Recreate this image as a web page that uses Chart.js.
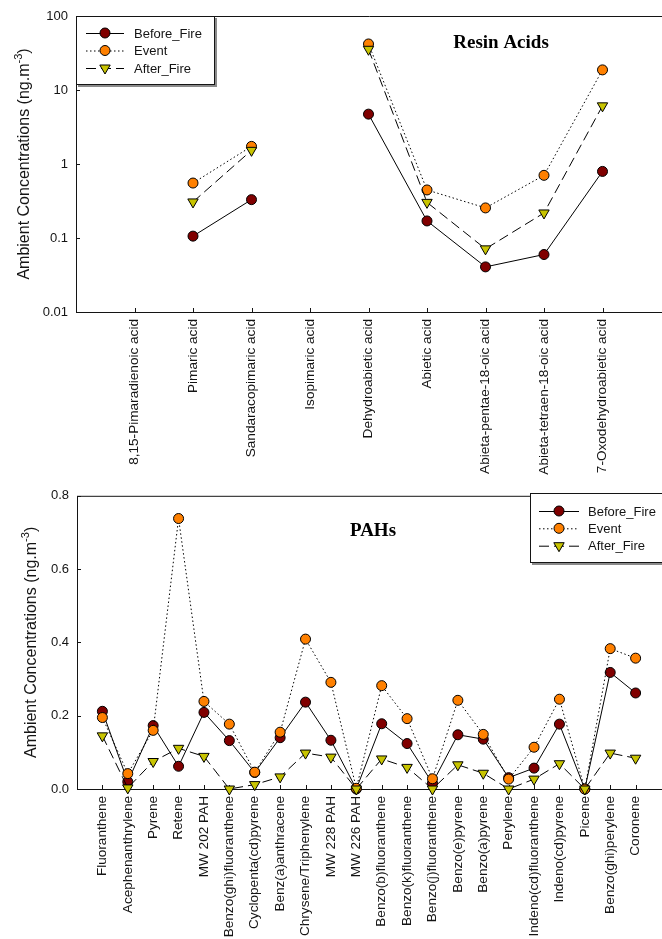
<!DOCTYPE html>
<html><head><meta charset="utf-8">
<script src="https://cdn.jsdelivr.net/npm/chart.js@4"></script>
<style>
html,body{margin:0;padding:0;overflow:hidden;background:#fff;width:662px;height:939px;position:relative}
#c1{position:absolute;left:0;top:0}
#c2{position:absolute;left:0;top:480px}
</style>
</head><body>
<canvas id="c1" width="668" height="480"></canvas>
<canvas id="c2" width="668" height="459"></canvas>
<script>
// ---------- DATA ----------
const seriesNames = ['Before_Fire', 'Event', 'After_Fire'];

const resinCategories = ['8,15-Pimaradienoic acid', 'Pimaric acid', 'Sandaracopimaric acid', 'Isopimaric acid',
  'Dehydroabietic acid', 'Abietic acid', 'Abieta-pentae-18-oic acid', 'Abieta-tetraen-18-oic acid', '7-Oxodehydroabietic acid'];
const resinBefore = [null, 0.106, 0.33, null, 4.72, 0.170, 0.0407, 0.0598, 0.794];
const resinEvent  = [null, 0.553, 1.73, null, 41.9, 0.446, 0.255, 0.703, 18.7];
const resinAfter  = [null, 0.307, 1.53, null, 35.5, 0.303, 0.0713, 0.218, 6.11];
const resinYTicks = [0.01, 0.1, 1, 10, 100];

const pahCategories = ['Fluoranthene', 'Acephenanthrylene', 'Pyrene', 'Retene', 'MW 202 PAH', 'Benzo(ghi)fluoranthene',
  'Cyclopenta(cd)pyrene', 'Benz(a)anthracene', 'Chrysene/Triphenylene', 'MW 228 PAH', 'MW 226 PAH',
  'Benzo(b)fluoranthene', 'Benzo(k)fluoranthene', 'Benzo(j)fluoranthene', 'Benzo(e)pyrene', 'Benzo(a)pyrene',
  'Perylene', 'Indeno(cd)fluoranthene', 'Indeno(cd)pyrene', 'Picene', 'Benzo(ghi)perylene', 'Coronene'];
const pahBefore = [0.212, 0.020, 0.173, 0.062, 0.209, 0.132, 0.045, 0.140, 0.237, 0.133, 0.000,
  0.178, 0.124, 0.016, 0.148, 0.136, 0.031, 0.057, 0.177, 0.000, 0.318, 0.262];
const pahEvent  = [0.195, 0.042, 0.160, 0.738, 0.239, 0.177, 0.046, 0.155, 0.409, 0.291, 0.002,
  0.282, 0.192, 0.028, 0.242, 0.149, 0.027, 0.114, 0.245, 0.000, 0.383, 0.357];
const pahAfter  = [0.145, 0.003, 0.075, 0.111, 0.089, 0.000, 0.012, 0.033, 0.098, 0.087, 0.000,
  0.082, 0.059, 0.000, 0.066, 0.043, 0.000, 0.027, 0.069, 0.000, 0.098, 0.084];
const pahYTicks = [0, 0.2, 0.4, 0.6, 0.8];

// ---------- STYLE ----------
const FONT = '"Liberation Sans", Arial, sans-serif';
const SERIF = '"Liberation Serif", "Times New Roman", serif';
const INK = '#141414';
const styles = [
  { fill: '#800000', dash: [], shape: 'circle', r: 5 },
  { fill: '#FF8000', dash: [1.5, 2.5], shape: 'circle', r: 5 },
  { fill: '#C8C400', dash: [10, 5], shape: 'triangle', r: 6 }
];

function toPoints(arr) { return arr.map((v, i) => ({ x: i + 1, y: v })); }

function makeDatasets(arrs) {
  return arrs.map((arr, k) => ({
    label: seriesNames[k],
    data: toPoints(arr),
    borderColor: '#000',
    borderWidth: 1,
    borderDash: styles[k].dash,
    pointStyle: styles[k].shape,
    pointRotation: styles[k].shape === 'triangle' ? 180 : 0,
    pointRadius: styles[k].r,
    pointBackgroundColor: styles[k].fill,
    pointBorderColor: '#000',
    pointBorderWidth: 1,
    fill: false,
    tension: 0,
    spanGaps: false,
    clip: false,
    order: 3 - k
  }));
}

function drawMarker(ctx, x, y, s) {
  ctx.beginPath();
  if (s.shape === 'circle') {
    ctx.arc(x, y, s.r, 0, Math.PI * 2);
  } else {
    const r = s.r;
    ctx.moveTo(x - r * Math.sin(Math.PI / 3), y - r / 2);
    ctx.lineTo(x + r * Math.sin(Math.PI / 3), y - r / 2);
    ctx.lineTo(x, y + r);
    ctx.closePath();
  }
  ctx.fillStyle = s.fill; ctx.fill();
  ctx.lineWidth = 1; ctx.strokeStyle = '#000'; ctx.stroke();
}

function drawYTitle(ctx, cx, cy) {
  const main = 'Ambient Concentrations (ng.m', sup = '-3', end = ')';
  ctx.save();
  ctx.translate(cx, cy); ctx.rotate(-Math.PI / 2);
  ctx.font = '16px ' + FONT; const w1 = ctx.measureText(main).width, w3 = ctx.measureText(end).width;
  ctx.font = '11px ' + FONT; const w2 = ctx.measureText(sup).width;
  let x = -(w1 + w2 + w3) / 2;
  ctx.fillStyle = INK; ctx.textBaseline = 'alphabetic'; ctx.textAlign = 'left';
  ctx.font = '16px ' + FONT; ctx.fillText(main, x, 6); x += w1;
  ctx.font = '11px ' + FONT; ctx.fillText(sup, x, -1); x += w2;
  ctx.font = '16px ' + FONT; ctx.fillText(end, x, 6);
  ctx.restore();
}

function drawLegend(ctx, L) {
  const w = L.right - L.left, h = L.bottom - L.top;
  ctx.save();
  ctx.fillStyle = '#8a8a8a'; ctx.fillRect(L.left + 2, L.top + 2, w, h);
  ctx.fillStyle = '#fff'; ctx.fillRect(L.left, L.top, w, h);
  ctx.strokeStyle = INK; ctx.lineWidth = 1; ctx.strokeRect(L.left + 0.5, L.top + 0.5, w - 1, h - 1);
  seriesNames.forEach((name, i) => {
    const y = L.rows[i];
    ctx.beginPath(); ctx.setLineDash(styles[i].dash); ctx.strokeStyle = '#000'; ctx.lineWidth = 1;
    ctx.moveTo(L.x1, y + 0.5); ctx.lineTo(L.x2, y + 0.5); ctx.stroke(); ctx.setLineDash([]);
    drawMarker(ctx, L.mx, y, styles[i]);
    ctx.fillStyle = INK; ctx.font = '13px ' + FONT; ctx.textBaseline = 'middle'; ctx.textAlign = 'left';
    ctx.fillText(name, L.tx, y + 1);
  });
  ctx.restore();
}

function decorPlugin(cfg) {
  return {
    id: 'decor',
    beforeDatasetsDraw(chart) {
      const ctx = chart.ctx, a = chart.chartArea, xs = chart.scales.x, ys = chart.scales.y;
      ctx.save();
      ctx.strokeStyle = INK; ctx.lineWidth = 1;
      ctx.beginPath();
      ctx.moveTo(a.left + 0.5, a.top + 0.5); ctx.lineTo(a.left + 0.5, a.bottom + 0.5);
      ctx.lineTo(a.right + 2, a.bottom + 0.5);
      ctx.moveTo(a.left, a.top + 0.5); ctx.lineTo(a.right + 2, a.top + 0.5);
      xs.ticks.forEach(t => { const px = Math.round(xs.getPixelForValue(t.value)) + 0.5; ctx.moveTo(px, a.bottom); ctx.lineTo(px, a.bottom - 4); });
      ys.ticks.forEach(t => { const py = Math.round(ys.getPixelForValue(t.value)) + 0.5; ctx.moveTo(a.left, py); ctx.lineTo(a.left + 4, py); });
      ctx.stroke();
      ctx.restore();
    },
    afterDatasetsDraw(chart) {
      const ctx = chart.ctx, a = chart.chartArea;
      ctx.save();
      ctx.fillStyle = '#000'; ctx.font = 'bold 19px ' + SERIF; ctx.textAlign = 'center'; ctx.textBaseline = 'middle';
      ctx.fillText(cfg.title, cfg.titleX, cfg.titleY);
      drawYTitle(ctx, cfg.yTitleX, (a.top + a.bottom) / 2);
      drawLegend(ctx, cfg.legend);
      ctx.restore();
    }
  };
}

function makeChart(id, o) {
  return new Chart(document.getElementById(id), {
    type: 'line',
    data: { datasets: makeDatasets(o.arrs) },
    options: {
      responsive: false, animation: false, events: [],
      layout: { padding: { top: o.padTop, right: 0, left: 0, bottom: 0 } },
      plugins: { legend: { display: false }, title: { display: false }, tooltip: { enabled: false } },
      scales: {
        x: {
          type: 'linear', min: 0, max: o.xMax,
          afterBuildTicks: s => { s.ticks = o.cats.map((c, i) => ({ value: i + 1 })); },
          afterFit: s => { s.height = o.xHeight; },
          grid: { display: false, drawTicks: false }, border: { display: false },
          ticks: { autoSkip: false, maxRotation: 90, minRotation: 90, padding: 7, color: INK,
            font: { family: FONT, size: 13.6 }, callback: v => o.cats[v - 1] ?? '' }
        },
        y: {
          type: o.yType, min: o.yMin, max: o.yMax,
          afterBuildTicks: s => { s.ticks = o.yTicks.map(v => ({ value: v })); },
          afterFit: s => { s.width = o.yWidth; },
          grid: { display: false, drawTicks: false }, border: { display: false },
          ticks: { padding: 8, color: INK, font: { family: FONT, size: 13 }, callback: o.yFmt }
        }
      }
    },
    plugins: [decorPlugin(o.decor)]
  });
}

makeChart('c1', {
  arrs: [resinBefore, resinEvent, resinAfter], cats: resinCategories, xMax: 10, xHeight: 168,
  yType: 'logarithmic', yMin: 0.01, yMax: 100, yTicks: resinYTicks, yWidth: 76, padTop: 16,
  yFmt: v => String(v),
  decor: { title: 'Resin Acids', titleX: 501, titleY: 43, yTitleX: 23,
    legend: { left: 76, top: 16, right: 215, bottom: 85, rows: [33, 50.5, 68], x1: 86, x2: 124, mx: 105, tx: 134 } }
});

makeChart('c2', {
  arrs: [pahBefore, pahEvent, pahAfter], cats: pahCategories, xMax: 23, xHeight: 150,
  yType: 'linear', yMin: 0, yMax: 0.8, yTicks: pahYTicks, yWidth: 77, padTop: 13,
  yFmt: v => Number(v).toFixed(1),
  decor: { title: 'PAHs', titleX: 373, titleY: 51, yTitleX: 30,
    legend: { left: 530, top: 13, right: 680, bottom: 83, rows: [31, 48.3, 65.7], x1: 539, x2: 579, mx: 559, tx: 588 } }
});
</script>
</body></html>
